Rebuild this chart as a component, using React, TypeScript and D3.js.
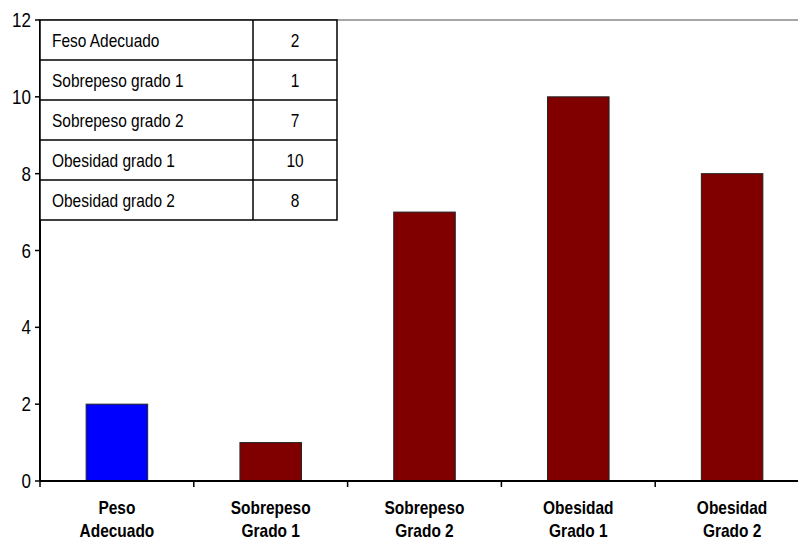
import React from "react";
import * as d3 from "d3";

const categories = ["Peso|Adecuado", "Sobrepeso|Grado 1", "Sobrepeso|Grado 2", "Obesidad|Grado 1", "Obesidad|Grado 2"];
const values = [2, 1, 7, 10, 8];
const barColors = ["#0000ff", "#800000", "#800000", "#800000", "#800000"];
const tableLabels = ["Feso Adecuado", "Sobrepeso grado 1", "Sobrepeso grado 2", "Obesidad grado 1", "Obesidad grado 2"];
const tableValues = [2, 1, 7, 10, 8];
const yTicks = [0, 2, 4, 6, 8, 10, 12];

const W = 798;
const H = 545;
const font = "'Liberation Sans', Arial, sans-serif";

// Horizontally condensed text, anchored at (x, y)
function CText(props: { x: number; y: number; sx: number; size: number; anchor?: string; bold?: boolean; children: React.ReactNode }) {
  const { x, y, sx, size, anchor, bold, children } = props;
  return (
    <text
      transform={`translate(${x},${y}) scale(${sx},1)`}
      textAnchor={anchor || "start"}
      fontFamily={font}
      fontSize={size}
      fontWeight={bold ? "bold" : "normal"}
      fill="#000"
    >
      {children}
    </text>
  );
}

export default function App() {
  const left = 40;
  const top = 20;
  const bottom = 481;
  const x = d3.scaleBand<number>().domain(d3.range(categories.length)).range([left, left + 5 * 153.8]).paddingInner(0.6).paddingOuter(0.3);
  const xb = d3.scaleBand<number>().domain(d3.range(categories.length)).range([left, left + 5 * 153.8]);
  const y = d3.scaleLinear().domain([0, 12]).range([bottom, top]);

  const tLeft = 40, tRight = 337, tSplit = 253;
  const rowH = 40;

  return (
    <svg width={W} height={H} style={{ position: "absolute", left: 0, top: 0, background: "#fff" }}>
      {/* plot top border */}
      <line x1={left} x2={W} y1={top} y2={top} stroke="#888" strokeWidth={1.5} />
      {/* bars */}
      {values.map((v, i) => (
        <rect key={i} x={x(i)} y={y(v)} width={x.bandwidth()} height={y(0) - y(v)} fill={barColors[i]} stroke="#222" strokeWidth={1} />
      ))}
      {/* y axis */}
      <line x1={left} x2={left} y1={top} y2={bottom} stroke="#000" strokeWidth={2} />
      {yTicks.map((t) => (
        <g key={t}>
          <line x1={left - 5} x2={left} y1={y(t)} y2={y(t)} stroke="#000" strokeWidth={1.5} />
          <CText x={left - 9} y={y(t) + 7} sx={0.85} size={20} anchor="end">{t}</CText>
        </g>
      ))}
      {/* x axis */}
      <line x1={left} x2={W} y1={bottom} y2={bottom} stroke="#000" strokeWidth={2} />
      {d3.range(categories.length + 1).map((i) => {
        const xx = left + i * xb.bandwidth();
        return <line key={i} x1={xx} x2={xx} y1={bottom} y2={bottom + 6} stroke="#000" strokeWidth={1.5} />;
      })}
      {categories.map((c, i) => {
        const cx = (xb(i) as number) + xb.bandwidth() / 2;
        const parts = c.split("|");
        return (
          <g key={i}>
            <CText x={cx} y={514} sx={0.86} size={18} anchor="middle" bold>{parts[0]}</CText>
            <CText x={cx} y={537} sx={0.86} size={18} anchor="middle" bold>{parts[1]}</CText>
          </g>
        );
      })}
      {/* data table */}
      <rect x={tLeft} y={top} width={tRight - tLeft} height={rowH * tableLabels.length} fill="#fff" stroke="#000" strokeWidth={1.5} />
      <line x1={tSplit} x2={tSplit} y1={top} y2={top + rowH * tableLabels.length} stroke="#000" strokeWidth={1.5} />
      {tableLabels.map((lab, i) => (
        <g key={i}>
          {i > 0 && <line x1={tLeft} x2={tRight} y1={top + i * rowH} y2={top + i * rowH} stroke="#000" strokeWidth={1.5} />}
          <CText x={52} y={top + i * rowH + 27} sx={0.86} size={18}>{lab}</CText>
          <CText x={(tSplit + tRight) / 2} y={top + i * rowH + 27} sx={0.86} size={18} anchor="middle">{tableValues[i]}</CText>
        </g>
      ))}
    </svg>
  );
}
